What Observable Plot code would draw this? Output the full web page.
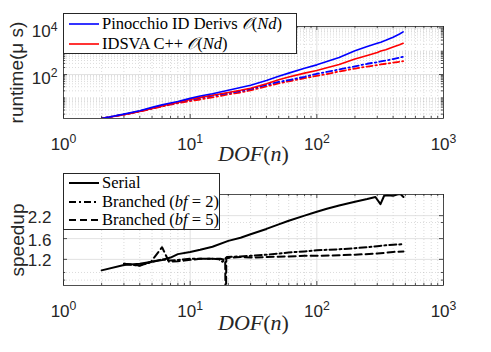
<!DOCTYPE html>
<html><head><meta charset="utf-8">
<script src="https://cdn.jsdelivr.net/npm/d3@7"></script>
<script src="https://cdn.jsdelivr.net/npm/@observablehq/plot@0.6"></script>
<style>
body{margin:0;background:#fff;}
#wrap{position:relative;width:491px;height:352px;overflow:hidden;background:#fff;}
#wrap svg{display:block}
.legend{position:absolute;background:#fff;border:1px solid #262626;box-sizing:border-box;font-family:"Liberation Serif","DejaVu Serif",serif;font-size:16.5px;color:#000;}
.legend .row{position:absolute;left:0;height:20px;display:flex;align-items:center;white-space:nowrap}
.legend .row svg{display:block}
.cal{font-family:"DejaVu Sans","Noto Sans",serif;font-style:italic}
</style></head>
<body><div id="wrap"></div>
<script>
// ---------- data ----------
const dofTop = [2,3,4,5,6,7,8,10,12,15,20,25,30,40,50,60,80,100,120,150,200,250,300,320,350,400,450,480];
const pinocchioID = [1.3,2.0,2.8,3.9,5.0,6.0,7.0,9.5,12,15,21,28,35,55,85,115,185,260,360,540,1050,1600,2200,2450,2950,4000,5500,6800];
const idsvaCpp   = [1.3,1.9,2.6,3.5,4.5,5.4,6.3,8.5,10.5,13,17,21,26,40,60,78,115,150,195,270,460,650,880,1020,1150,1500,1900,2200];
const pinocchioB = [1.3,1.95,2.7,3.6,4.6,5.5,6.4,8.3,10,12.5,16,19.5,24,36,48,58,80,108,130,165,225,290,340,365,400,460,530,580];
const idsvaB     = [1.3,1.9,2.6,3.4,4.3,5.1,5.9,7.2,8.5,10.5,14,17,21,31,42,51,70,88,105,135,180,220,255,270,290,325,355,375];

const dofSerial = [2,3,4,5,6,7,8,10,12,15,20,25,30,40,50,60,80,100,120,150,200,250,290,318,340,360,400,430,457,483];
const speedSerial = [1.03,1.11,1.13,1.16,1.19,1.23,1.29,1.33,1.37,1.43,1.55,1.62,1.70,1.83,1.95,2.05,2.20,2.32,2.42,2.53,2.67,2.77,2.85,2.58,2.90,2.92,2.90,2.95,2.97,2.85];
const dofBf2 = [3,4,5,6,7,8,10,12,15,17,18,19.5,25,30,40,60,80,100,150,200,250,300,350,400,483];
const speedBf2 = [1.13,1.10,1.16,1.20,1.18,1.19,1.21,1.21,1.21,1.20,1.16,1.24,1.25,1.26,1.28,1.32,1.34,1.36,1.38,1.40,1.42,1.44,1.46,1.47,1.48];
const dofBf5 = [3,4,4.9,6,6.8,8,9,12,15,17.3,18.9,19.1,19.3,21,25,30,40,60,80,100,150,200,300,400,483];
const speedBf5 = [1.13,1.10,1.16,1.42,1.16,1.17,1.18,1.21,1.21,1.21,1.19,0.5,1.22,1.23,1.24,1.23,1.24,1.25,1.26,1.26,1.27,1.28,1.30,1.33,1.34];

const xMajor = [1,10,100,1000];
const xMinor = [2,3,4,5,6,7,8,9,20,30,40,50,60,70,80,90,200,300,400,500,600,700,800,900];
const yMajorTop = [100,10000];
const yMinorTop = [2,3,4,5,6,7,8,9,10,20,30,40,50,60,70,80,90,200,300,400,500,600,700,800,900,1000,2000,3000,4000,5000,6000,7000,8000,9000];
const yMajorBot = [1.2,1.6,2.2];
const yMinorBot = [0.9,1,2];

const legendTop = [
  {html:'Pinocchio ID Derivs <span class="cal">𝒪</span>(<i>Nd</i>)', color:"#0000ff", dash:null},
  {html:'IDSVA C++ <span class="cal">𝒪</span>(<i>Nd</i>)', color:"#ff0000", dash:null}
];
const legendBot = [
  {html:'Serial', color:"#000", dash:null},
  {html:'Branched (<i>bf</i> = 2)', color:"#000", dash:"7,3,2,3"},
  {html:'Branched (<i>bf</i> = 5)', color:"#000", dash:"7,4"}
];

// ---------- helpers ----------
const W = 491, H = 176;
const ML = 63, MR = 48;
const AX = "#262626";
const pts = (xs, ys) => xs.map((x,i)=>({x, y: ys[i]}));

function gridAndTicks(xMaj, xMin, yMaj, yMin){
  return [
    Plot.ruleX(xMin, {x: d=>d, stroke:"#9a9a9a", strokeOpacity:0.6, strokeWidth:0.6, strokeDasharray:"1,2"}),
    Plot.ruleY(yMin, {y: d=>d, stroke:"#9a9a9a", strokeOpacity:0.6, strokeWidth:0.6, strokeDasharray:"1,2"}),
    Plot.ruleX(xMaj, {x: d=>d, stroke:"#d9d9d9", strokeWidth:0.8}),
    Plot.ruleY(yMaj, {y: d=>d, stroke:"#d9d9d9", strokeWidth:0.8}),
  ];
}
function tickMarks(xMaj, xMin, yMaj, yMin, frameW, frameH){
  return [
    Plot.tickX(xMaj, {x:d=>d, insetTop: frameH-4, stroke:AX, strokeWidth:0.8}),
    Plot.tickX(xMaj, {x:d=>d, insetBottom: frameH-4, stroke:AX, strokeWidth:0.8}),
    Plot.tickX(xMin, {x:d=>d, insetTop: frameH-2.2, stroke:AX, strokeWidth:0.8}),
    Plot.tickX(xMin, {x:d=>d, insetBottom: frameH-2.2, stroke:AX, strokeWidth:0.8}),
    Plot.tickY(yMaj, {y:d=>d, insetRight: frameW-4, stroke:AX, strokeWidth:0.8}),
    Plot.tickY(yMaj, {y:d=>d, insetLeft: frameW-4, stroke:AX, strokeWidth:0.8}),
    Plot.tickY(yMin, {y:d=>d, insetRight: frameW-2.2, stroke:AX, strokeWidth:0.8}),
    Plot.tickY(yMin, {y:d=>d, insetLeft: frameW-2.2, stroke:AX, strokeWidth:0.8}),
    Plot.frame({stroke:AX, strokeWidth:0.8})
  ];
}
const supFmt = d => "10^" + Math.round(Math.log10(d));
const style = {fontFamily:'"Liberation Sans", Arial, sans-serif', fontSize:"17px", color:AX, background:"#fff", overflow:"visible"};

function postProcess(svg){
  d3.select(svg).selectAll("text").each(function(){
    const t = this.textContent;
    const m = /^10\^(-?\d+)$/.exec(t);
    const sel = d3.select(this);
    if (m) {
      sel.text(null);
      sel.append("tspan").text("10");
      sel.append("tspan").attr("dy","-0.55em").attr("font-size","0.72em").text(m[1]);
    } else if (t === "DOF(n)") {
      sel.text(null);
      sel.append("tspan").attr("font-style","italic").text("DOF");
      sel.append("tspan").text("(");
      sel.append("tspan").attr("font-style","italic").text("n");
      sel.append("tspan").text(")");
    }
  });
}

// ---------- top chart ----------
const topMT = 26, topMB = 58;
const topFW = W-ML-MR, topFH = H-topMT-topMB;
const topChart = Plot.plot({
  width: W, height: H, marginLeft: ML, marginRight: MR, marginTop: topMT, marginBottom: topMB,
  style,
  x: {type:"log", domain:[1,1000]},
  y: {type:"log", domain:[1.3,11500]},
  marks: [
    ...gridAndTicks(xMajor, xMinor, yMajorTop, yMinorTop),
    Plot.line(pts(dofTop, idsvaB), {x:"x", y:"y", stroke:"#ff0000", strokeWidth:1.8, strokeDasharray:"6,3,1.5,3", clip:true}),
    Plot.line(pts(dofTop, pinocchioB), {x:"x", y:"y", stroke:"#0000ff", strokeWidth:1.8, strokeDasharray:"6,3,1.5,3", clip:true}),
    Plot.line(pts(dofTop, idsvaCpp), {x:"x", y:"y", stroke:"#ff0000", strokeWidth:1.6, clip:true}),
    Plot.line(pts(dofTop, pinocchioID), {x:"x", y:"y", stroke:"#0000ff", strokeWidth:1.6, clip:true}),
    ...tickMarks(xMajor, xMinor, yMajorTop, yMinorTop, topFW, topFH),
    Plot.axisX(xMajor, {tickSize:0, tickPadding:19, tickFormat:supFmt, label:null}),
    Plot.axisY(yMajorTop, {tickSize:0, tickPadding:6, dy:4, tickFormat:supFmt, label:null}),
    Plot.text(["runtime(μ s)"], {frameAnchor:"left", rotate:-90, dx:-47, fontSize:19, textAnchor:"middle"}),
    Plot.text(["DOF(n)"], {frameAnchor:"bottom", dy:42, fontSize:22, fontFamily:'"Liberation Serif", serif', textAnchor:"middle"})
  ]
});

// ---------- bottom chart ----------
const botMT = 18, botMB = 67;
const botFW = W-ML-MR, botFH = H-botMT-botMB;
const botChart = Plot.plot({
  width: W, height: H, marginLeft: ML, marginRight: MR, marginTop: botMT, marginBottom: botMB,
  style,
  x: {type:"log", domain:[1,1000]},
  y: {type:"log", domain:[0.835,2.95]},
  marks: [
    ...gridAndTicks(xMajor, xMinor, yMajorBot, yMinorBot),
    Plot.line(pts(dofBf5, speedBf5), {x:"x", y:"y", stroke:"#000", strokeWidth:2, strokeDasharray:"7,4", clip:true}),
    Plot.line(pts(dofBf2, speedBf2), {x:"x", y:"y", stroke:"#000", strokeWidth:2, strokeDasharray:"7,3,2,3", clip:true}),
    Plot.line(pts(dofSerial, speedSerial), {x:"x", y:"y", stroke:"#000", strokeWidth:2, clip:true}),
    ...tickMarks(xMajor, xMinor, yMajorBot, yMinorBot, botFW, botFH),
    Plot.axisX(xMajor, {tickSize:0, tickPadding:19, tickFormat:supFmt, label:null}),
    Plot.axisY(yMajorBot, {tickSize:0, tickPadding:12, dy:1.5, tickFormat:d=>d.toFixed(1), label:null}),
    Plot.text(["speedup"], {frameAnchor:"left", rotate:-90, dx:-46, fontSize:19, textAnchor:"middle"}),
    Plot.text(["DOF(n)"], {frameAnchor:"bottom", dy:44, fontSize:22, fontFamily:'"Liberation Serif", serif', textAnchor:"middle"})
  ]
});

postProcess(topChart); postProcess(botChart);
const wrap = document.getElementById("wrap");
wrap.appendChild(topChart);
wrap.appendChild(botChart);

// ---------- legends ----------
function makeLegend(items, box, rowCenters, sw){
  const div = document.createElement("div");
  div.className = "legend";
  Object.assign(div.style, {left: box[0]+"px", top: box[1]+"px", width: box[2]+"px", height: box[3]+"px"});
  items.forEach((it, i) => {
    const row = document.createElement("div");
    row.className = "row";
    row.style.top = (rowCenters[i]-10) + "px";
    row.innerHTML = `<svg width="37" height="20"><line x1="5" x2="35" y1="10" y2="10" stroke="${it.color}" stroke-width="${sw}" ${it.dash ? `stroke-dasharray="${it.dash}"` : ""}/></svg><span style="margin-left:1px">${it.html}</span>`;
    div.appendChild(row);
  });
  wrap.appendChild(div);
}
makeLegend(legendTop, [63,12.5,234,41], [10.8,30.2], 1.6);
makeLegend(legendBot, [63,172.5,157,57], [9.2,28.2,46.5], 2);
</script>
</body></html>
